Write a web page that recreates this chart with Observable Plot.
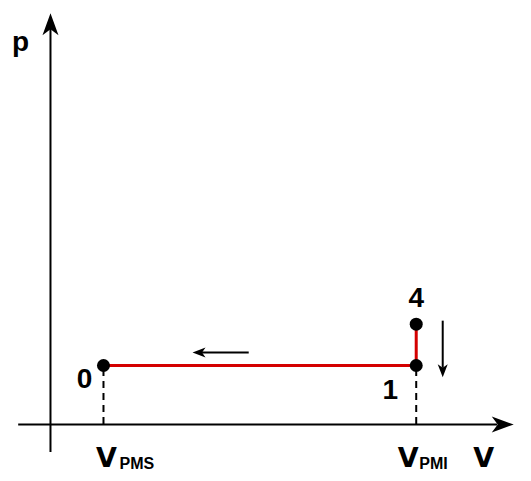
<!DOCTYPE html>
<html>
<head>
<meta charset="utf-8">
<script src="https://cdn.jsdelivr.net/npm/d3@7"></script>
<script src="https://cdn.jsdelivr.net/npm/@observablehq/plot@0.6"></script>
<style>
  html, body { margin: 0; padding: 0; background: #fff; }
  #chart { width: 531px; height: 481px; }
</style>
</head>
<body>
<div id="chart"></div>
<script>
// ---- data (p–V diagram, units: V in multiples of V_PMS, p arbitrary) ----
const stateNames = ["0", "1", "4"];
const stateV = [1, 6.9, 6.9];
const stateP = [1, 1, 1.7];
const pathOrder = ["0", "1", "4"];           // red process path
const tickNames = ["PMS", "PMI"];            // V subscripts
const tickV = [1, 6.9];
const axisNames = ["V", "p"];

// direction arrows along the process (tail -> tip), data units
const flowArrows = [
  {x1: 3.74, y1: 1.22, x2: 2.68, y2: 1.22},
  {x1: 7.40, y1: 1.76, x2: 7.40, y2: 0.80}
];

// ---- layout ----
const W = 531, H = 481;
const xDomain = [-0.943, 9.075];
const yDomain = [-0.966, 7.186];
const kx = W / (xDomain[1] - xDomain[0]);
const ky = H / (yDomain[1] - yDomain[0]);
const xAxisExtent = [-0.6, 8.74];
const yAxisExtent = [-0.475, 6.97];
const FONT = "Liberation Sans, Arial, Helvetica, sans-serif";
const WIDEFONT = "DejaVu Sans, Verdana, sans-serif";

const states = stateNames.map((n, i) => ({name: n, V: stateV[i], p: stateP[i]}));
const byName = Object.fromEntries(states.map(d => [d.name, d]));
const path = pathOrder.map(n => byName[n]);

// filled "stealth" arrowhead symbol, tip at origin, pointing along (ux, uy) in screen space
function head(ux, uy, L, w, n) {
  const px = -uy, py = ux;
  return {
    draw(ctx) {
      ctx.moveTo(0, 0);
      ctx.lineTo(-ux * L + px * w, -uy * L + py * w);
      ctx.lineTo(-ux * (L - n), -uy * (L - n));
      ctx.lineTo(-ux * L - px * w, -uy * L - py * w);
      ctx.closePath();
    }
  };
}
const bigL = 22, bigW = 8, bigN = 6;
const smallL = 13, smallW = 5, smallN = 3.5;

const dirOf = a => {
  const dx = (a.x2 - a.x1) * kx, dy = -(a.y2 - a.y1) * ky;
  const len = Math.hypot(dx, dy);
  return [dx / len, dy / len];
};

const shaftArrows = flowArrows.map(a => {
  const [ux, uy] = dirOf(a);
  const back = smallL - smallN;
  return {...a, sx: a.x2 - ux * back / kx, sy: a.y2 + uy * back / ky, ux, uy};
});

const marks = [
  // axes
  Plot.ruleY([0], {x1: xAxisExtent[0], x2: xAxisExtent[1] - (bigL - bigN) / kx, stroke: "#000", strokeWidth: 2}),
  Plot.ruleX([0], {y1: yAxisExtent[0], y2: yAxisExtent[1] - (bigL - bigN) / ky, stroke: "#000", strokeWidth: 2}),
  Plot.dot([0], {x: () => xAxisExtent[1], y: () => 0, symbol: head(1, 0, bigL, bigW, bigN), fill: "#000", stroke: "none"}),
  Plot.dot([0], {x: () => 0, y: () => yAxisExtent[1], symbol: head(0, -1, bigL, bigW, bigN), fill: "#000", stroke: "none"}),
  // dashed projections to the V axis
  Plot.ruleX(states.filter(d => d.name !== "4"), {x: "V", y1: 0, y2: "p", stroke: "#000", strokeWidth: 2, strokeDasharray: "7,5"}),
  // process path
  Plot.line(path, {x: "V", y: "p", stroke: "#d40000", strokeWidth: 3}),
  // state points
  Plot.dot(states, {x: "V", y: "p", r: 6.5, fill: "#000", stroke: "none"}),
  // flow direction arrows
  Plot.link(shaftArrows, {x1: "x1", y1: "y1", x2: "sx", y2: "sy", stroke: "#000", strokeWidth: 2}),
  Plot.dot([shaftArrows[0]], {x: "x2", y: "y2", symbol: head(shaftArrows[0].ux, shaftArrows[0].uy, smallL, smallW, smallN), fill: "#000", stroke: "none"}),
  Plot.dot([shaftArrows[1]], {x: "x2", y: "y2", symbol: head(shaftArrows[1].ux, shaftArrows[1].uy, smallL, smallW, smallN), fill: "#000", stroke: "none"})
];

// per-label offsets (pixels) for state labels
const stateLabelOffset = {"0": [-19, 14], "1": [-26, 25], "4": [0, -26]};
for (const s of states) {
  const [dx, dy] = stateLabelOffset[s.name];
  marks.push(Plot.text([s], {x: "V", y: "p", text: "name", dx, dy, fontSize: 28, fontWeight: "bold", fontFamily: FONT, fill: "#000"}));
}

// V tick labels with subscripts
const tickLabelOffset = {"PMS": [3, 16], "PMI": [-8, 3]};
tickNames.forEach((name, i) => {
  const [dxV, dxSub] = tickLabelOffset[name];
  marks.push(Plot.text([tickV[i]], {x: d => d, y: () => 0, text: () => "V", dx: dxV, dy: 34, textAnchor: "middle", fontSize: 27, fontWeight: "bold", fontFamily: WIDEFONT, fill: "#000"}));
  marks.push(Plot.text([tickV[i]], {x: d => d, y: () => 0, text: () => name, dx: dxSub, dy: 39, textAnchor: "start", fontSize: 16, fontWeight: "bold", fontFamily: FONT, fill: "#000"}));
});

// axis names
marks.push(Plot.text([axisNames[0]], {x: () => xAxisExtent[1], y: () => 0, text: d => d, dx: -30, dy: 34, fontSize: 27, fontWeight: "bold", fontFamily: WIDEFONT, fill: "#000"}));
marks.push(Plot.text([axisNames[1]], {x: () => 0, y: () => yAxisExtent[1], text: d => d, dx: -30, dy: 29, fontSize: 28, fontWeight: "bold", fontFamily: FONT, fill: "#000"}));

const chart = Plot.plot({
  width: W,
  height: H,
  marginTop: 0, marginRight: 0, marginBottom: 0, marginLeft: 0,
  x: {domain: xDomain, axis: null},
  y: {domain: yDomain, axis: null},
  style: {background: "#fff", overflow: "visible"},
  marks
});
document.getElementById("chart").appendChild(chart);
</script>
</body>
</html>
